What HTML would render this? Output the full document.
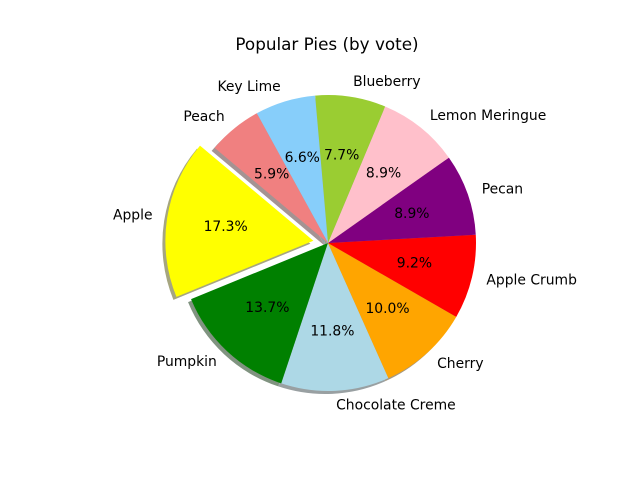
<!DOCTYPE html>
<html><head><meta charset="utf-8"><style>
html,body{margin:0;padding:0;background:#fff;}
svg{display:block;font-family:"DejaVu Sans","Liberation Sans",sans-serif;}
</style></head><body>
<svg id="chart" width="640" height="480" viewBox="0 0 640 480">
<rect width="640" height="480" fill="#fff"/>
<text x="327" y="44" text-anchor="middle" dominant-baseline="central" font-size="16.8">Popular Pies (by vote)</text>
<g id="shadows"></g><g id="slices"></g><g id="labels"></g>
</svg>
<script>
const categories = ["Apple","Pumpkin","Chocolate Creme","Cherry","Apple Crumb","Pecan","Lemon Meringue","Blueberry","Key Lime","Peach"];
const values = [17.3,13.7,11.8,10.0,9.2,8.9,8.9,7.7,6.6,5.9];
const colors = ["#ffff00","#008000","#add8e6","#ffa500","#ff0000","#800080","#ffc0cb","#9acd32","#87cefa","#f08080"];
const explode = [0.1,0,0,0,0,0,0,0,0,0];
const startAngle = 140;
const cx = 328, cy = 243, R = 148;
const NS = "http://www.w3.org/2000/svg";
const total = values.reduce((a,b)=>a+b,0);
function pt(x,y,r,deg){const a=deg*Math.PI/180;return [x+r*Math.cos(a), y-r*Math.sin(a)];}
function wedge(x,y,a1,a2){
  const p1=pt(x,y,R,a1), p2=pt(x,y,R,a2);
  const large=(a2-a1)>180?1:0;
  return `M${x},${y}L${p1[0]},${p1[1]}A${R},${R} 0 ${large} 0 ${p2[0]},${p2[1]}Z`;
}
function shade(hex){
  const n=parseInt(hex.slice(1),16);const c=[(n>>16)&255,(n>>8)&255,n&255];
  return "rgb("+c.map(v=>Math.round(v*0.3*0.5+255*0.5)).join(",")+")";
}
const gS=document.getElementById("shadows"), gP=document.getElementById("slices"), gL=document.getElementById("labels");
let a=startAngle;
values.forEach((v,i)=>{
  const span=v/total*360, a1=a, a2=a+span, mid=(a1+a2)/2;
  const c=pt(cx,cy,explode[i]*R,mid);
  const sh=document.createElementNS(NS,"path");
  sh.setAttribute("d",wedge(c[0]-3,c[1]+3,a1,a2));
  sh.setAttribute("fill",shade(colors[i]));
  
  
  gS.appendChild(sh);
  const p=document.createElementNS(NS,"path");
  p.setAttribute("d",wedge(c[0],c[1],a1,a2));
  p.setAttribute("fill",colors[i]);
  
  
  gP.appendChild(p);
  const lp=pt(c[0],c[1],1.1*R,mid);
  const t=document.createElementNS(NS,"text");
  t.setAttribute("x",lp[0]);t.setAttribute("y",lp[1]);
  t.setAttribute("text-anchor",Math.cos(mid*Math.PI/180)>0?"start":"end");
  t.setAttribute("dominant-baseline","central");t.setAttribute("font-size","13.9");
  t.textContent=categories[i];
  
  
  gL.appendChild(t);
  const pp=pt(c[0],c[1],0.6*R,mid);
  const q=document.createElementNS(NS,"text");
  q.setAttribute("x",pp[0]);q.setAttribute("y",pp[1]);
  q.setAttribute("text-anchor","middle");q.setAttribute("dominant-baseline","central");q.setAttribute("font-size","13.9");
  q.textContent=(v/total*100).toFixed(1)+"%";
  
  
  gL.appendChild(q);
  a=a2;
});
</script>
</body></html>
